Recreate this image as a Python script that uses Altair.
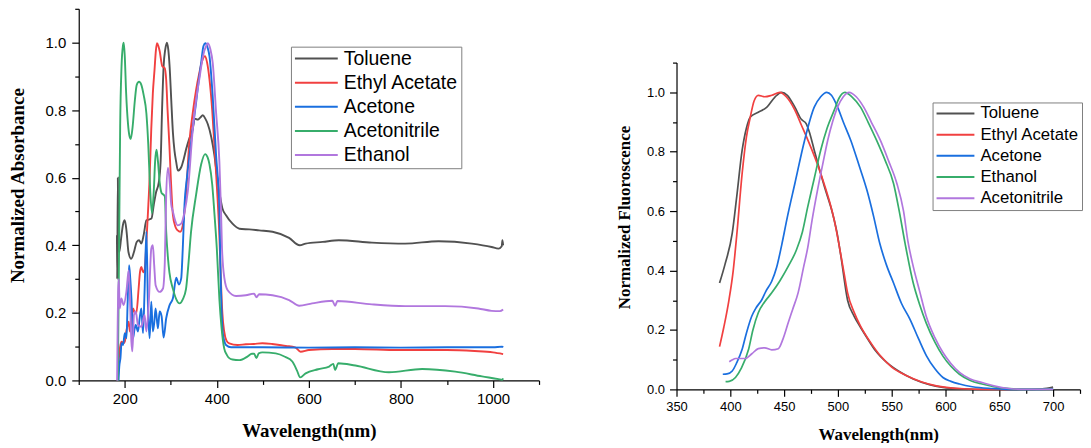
import altair as alt
import pandas as pd

# ---------------- Absorbance (left panel) ----------------
abs_order = ["Toluene", "Ethyl Acetate", "Acetone", "Acetonitrile", "Ethanol"]
fl_order = ["Toluene", "Ethyl Acetate", "Acetone", "Ethanol", "Acetonitrile"]
palette = ["#515151", "#F14040", "#1A6FDF", "#37AD6B", "#B177DE"]

abs_tol_wl = [183, 183.5, 185, 186, 188, 192, 196, 200, 204, 208, 214, 220, 226, 231, 236, 241, 247, 252, 258, 263, 268, 274, 278, 281, 284.4, 288, 291.6, 294.5, 297.4, 301, 304.6, 308, 311.8, 315.4, 322.6, 328, 333.4, 340, 347.8, 352, 358.7, 364, 369.5, 375, 380.3, 388, 394.8, 400, 405.6, 412, 420, 434, 449, 470.6, 492, 521, 557, 580, 593, 630, 665, 737, 809, 882, 954, 997, 1012, 1019, 1020.5, 1022]
abs_tol_v = [0.43, 0.30, 0.60, 0.40, 0.38, 0.42, 0.46, 0.474, 0.44, 0.38, 0.36, 0.38, 0.41, 0.415, 0.405, 0.43, 0.474, 0.476, 0.479, 0.52, 0.557, 0.587, 0.65, 0.80, 0.93, 0.98, 1.0, 0.98, 0.93, 0.83, 0.734, 0.68, 0.646, 0.621, 0.631, 0.655, 0.685, 0.715, 0.745, 0.775, 0.772, 0.778, 0.785, 0.775, 0.759, 0.72, 0.666, 0.61, 0.557, 0.51, 0.489, 0.464, 0.449, 0.447, 0.444, 0.44, 0.422, 0.40, 0.405, 0.41, 0.415, 0.408, 0.405, 0.412, 0.405, 0.395, 0.39, 0.397, 0.415, 0.40]

abs_eth_ac_wl = [185, 187, 190, 193, 197, 200, 204, 208.6, 211, 214, 218, 222, 225, 230, 233, 236, 240, 243, 247, 250.5, 254, 257.6, 261, 264.7, 267.5, 270, 273, 275.8, 281.5, 286.6, 290, 293, 297, 300, 304.6, 310, 315, 320.5, 326, 333, 340, 347.8, 355, 362, 368, 374.6, 379, 384, 390, 394.8, 399, 405.5, 409, 412, 416, 421, 427, 445, 463, 480, 499, 520, 550, 570, 582, 600, 651, 700, 795, 900, 960, 1000, 1022]
abs_eth_ac_v = [0.0, 0.06, 0.10, 0.115, 0.11, 0.115, 0.15, 0.174, 0.145, 0.17, 0.213, 0.20, 0.198, 0.27, 0.32, 0.336, 0.32, 0.326, 0.41, 0.50, 0.60, 0.745, 0.85, 0.92, 0.975, 0.998, 0.99, 0.975, 0.93, 0.925, 0.89, 0.80, 0.695, 0.60, 0.49, 0.455, 0.444, 0.44, 0.459, 0.55, 0.70, 0.793, 0.86, 0.91, 0.945, 0.96, 0.94, 0.892, 0.80, 0.695, 0.60, 0.43, 0.292, 0.20, 0.145, 0.118, 0.11, 0.105, 0.107, 0.108, 0.11, 0.108, 0.102, 0.098, 0.085, 0.09, 0.093, 0.093, 0.09, 0.09, 0.087, 0.083, 0.078]

abs_acet_wl = [186.5, 188, 190.6, 193, 196.3, 200, 203.7, 206, 209.4, 212, 214.5, 218, 221, 223.8, 228.8, 232, 236, 239.6, 243, 247, 250.5, 254, 257.6, 261, 264, 267, 272, 275.8, 280, 284.4, 290, 297.4, 304.6, 311.8, 317.5, 322.6, 326, 329.8, 335, 340.7, 348, 355, 360, 366, 371, 375.3, 380, 384, 391, 398.4, 405.6, 407.6, 410, 412.6, 416, 420, 431, 500, 600, 700, 800, 900, 1000, 1020, 1022]
abs_acet_v = [0.0, 0.04, 0.066, 0.11, 0.105, 0.14, 0.125, 0.22, 0.341, 0.30, 0.243, 0.125, 0.15, 0.164, 0.145, 0.18, 0.213, 0.14, 0.262, 0.44, 0.213, 0.125, 0.233, 0.145, 0.17, 0.213, 0.154, 0.204, 0.19, 0.127, 0.184, 0.223, 0.243, 0.304, 0.284, 0.302, 0.39, 0.52, 0.60, 0.666, 0.75, 0.823, 0.88, 0.941, 0.99, 0.998, 0.985, 0.96, 0.842, 0.666, 0.508, 0.35, 0.22, 0.145, 0.118, 0.105, 0.098, 0.098, 0.097, 0.098, 0.097, 0.098, 0.098, 0.10, 0.098]

abs_acn_wl = [185, 186, 188, 190, 193, 196, 197.8, 200, 203, 207, 210, 213, 217, 222, 226, 231, 236, 241, 247, 251, 255, 259, 263, 266, 269, 272, 276, 280, 284, 287, 290, 294, 297, 304.6, 312, 319, 326, 333, 338, 344, 355, 366, 374.6, 380, 384, 390, 395, 400, 405.6, 410, 416, 422, 427, 434, 449, 467, 476, 481, 486, 491, 499, 528, 548, 564, 574, 581, 593, 620, 644, 653, 657, 664, 701, 774, 846, 918, 976, 1012, 1020, 1022]
abs_acn_v = [0.0, 0.15, 0.45, 0.75, 0.93, 0.99, 1.0, 0.96, 0.85, 0.76, 0.725, 0.715, 0.75, 0.83, 0.875, 0.884, 0.875, 0.845, 0.79, 0.70, 0.57, 0.495, 0.56, 0.65, 0.683, 0.65, 0.585, 0.555, 0.55, 0.545, 0.44, 0.36, 0.32, 0.271, 0.24, 0.228, 0.24, 0.27, 0.34, 0.44, 0.55, 0.64, 0.67, 0.66, 0.64, 0.58, 0.49, 0.39, 0.24, 0.16, 0.095, 0.075, 0.066, 0.062, 0.06, 0.071, 0.079, 0.079, 0.066, 0.08, 0.083, 0.08, 0.07, 0.056, 0.03, 0.009, 0.021, 0.033, 0.041, 0.049, 0.031, 0.051, 0.044, 0.024, 0.034, 0.026, 0.012, 0.004, 0.002, 0.006]

abs_etoh_wl = [183.4, 184.5, 185.6, 187, 189, 192.6, 197.6, 203.5, 208.6, 210.8, 214.4, 216.5, 220, 223.8, 228.8, 236, 243, 247, 252.6, 257.6, 261, 264, 267, 275.8, 283, 287, 290, 294, 298, 301, 304.6, 308.2, 315, 322.6, 329.8, 337, 347.8, 355, 362, 370, 376.8, 380.3, 386, 391, 398.4, 405.6, 409, 411.3, 416.5, 423.6, 441.7, 463, 481, 486, 492, 521, 557, 579, 607, 651, 657, 662, 737, 809, 896, 968, 997, 1015, 1022]
abs_etoh_v = [0.0, 0.15, 0.262, 0.30, 0.213, 0.243, 0.223, 0.262, 0.326, 0.262, 0.115, 0.086, 0.194, 0.204, 0.164, 0.159, 0.194, 0.145, 0.243, 0.39, 0.40, 0.34, 0.282, 0.262, 0.272, 0.35, 0.55, 0.63, 0.58, 0.52, 0.50, 0.479, 0.459, 0.464, 0.498, 0.56, 0.744, 0.83, 0.892, 0.96, 0.99, 0.998, 0.98, 0.941, 0.793, 0.646, 0.508, 0.39, 0.302, 0.267, 0.25, 0.252, 0.257, 0.246, 0.255, 0.252, 0.238, 0.221, 0.228, 0.236, 0.221, 0.235, 0.225, 0.22, 0.22, 0.213, 0.206, 0.205, 0.21]

# ---------------- Fluorescence (right panel) ----------------
fl_tol_wl = [390, 395, 401.8, 406, 411, 415, 418.6, 426, 434, 441.5, 447.7, 453, 460, 466, 470.6, 474, 478, 487.5, 495, 499, 502.8, 509, 515, 520, 527, 535, 545.6, 557, 570, 585, 597.6, 615, 640, 670, 690, 700]
fl_tol_v = [0.358, 0.42, 0.526, 0.65, 0.805, 0.88, 0.917, 0.933, 0.95, 0.984, 1.0, 0.99, 0.95, 0.909, 0.894, 0.86, 0.805, 0.682, 0.593, 0.53, 0.448, 0.30, 0.247, 0.215, 0.174, 0.13, 0.09, 0.06, 0.035, 0.016, 0.007, 0.002, 0.0, 0.0, 0.002, 0.008]

fl_eth_ac_wl = [390, 394, 398.7, 402.7, 406, 411, 415, 418.6, 422, 426, 432, 438.5, 446, 452, 460, 466, 472, 484, 496.6, 505.8, 509, 515, 521, 530, 539.5, 550, 564, 578, 591.5, 613, 640, 660]
fl_eth_ac_v = [0.144, 0.21, 0.30, 0.40, 0.52, 0.727, 0.85, 0.917, 0.97, 0.99, 0.985, 0.99, 1.0, 0.985, 0.94, 0.89, 0.84, 0.727, 0.57, 0.39, 0.325, 0.26, 0.213, 0.16, 0.113, 0.075, 0.046, 0.025, 0.012, 0.003, 0.0, 0.0]

fl_acet_wl = [393, 397, 401.8, 406, 411, 415, 420, 424, 429, 433, 438.5, 443, 447.7, 453, 460, 469, 478, 484, 489.6, 494, 499.7, 505, 512, 520, 527, 533, 539, 545, 551.7, 559, 567, 575, 582.3, 590, 597.6, 605, 613, 625, 643.6, 660, 680, 700]
fl_acet_v = [0.051, 0.052, 0.062, 0.09, 0.135, 0.19, 0.247, 0.275, 0.30, 0.33, 0.364, 0.41, 0.485, 0.58, 0.693, 0.838, 0.95, 0.985, 1.0, 0.99, 0.95, 0.90, 0.838, 0.75, 0.67, 0.585, 0.49, 0.42, 0.358, 0.29, 0.236, 0.17, 0.113, 0.07, 0.04, 0.027, 0.018, 0.009, 0.003, 0.0, 0.0, 0.002]

fl_etoh_wl = [395.6, 399, 404.8, 410, 417, 421, 426, 432, 438.5, 446, 453.8, 461.5, 467, 472, 478, 484, 490, 496.6, 501, 506.5, 513, 521, 528, 536, 544, 551.7, 557, 562.5, 570, 576, 582, 590, 597.6, 605, 613, 623, 634, 645, 659, 675, 700]
fl_etoh_v = [0.026, 0.027, 0.04, 0.07, 0.135, 0.20, 0.258, 0.295, 0.325, 0.365, 0.414, 0.47, 0.53, 0.615, 0.71, 0.805, 0.88, 0.94, 0.98, 1.0, 0.985, 0.95, 0.90, 0.838, 0.77, 0.693, 0.60, 0.49, 0.358, 0.285, 0.224, 0.16, 0.112, 0.078, 0.051, 0.03, 0.018, 0.009, 0.003, 0.0, 0.0]

fl_acn_wl = [399, 402, 404.8, 414, 420, 426, 432, 438.5, 444.6, 449, 453.8, 458, 463, 468, 472, 476, 481, 486, 490.5, 495, 499.7, 505, 510.4, 517, 524, 531, 539.5, 547, 554.8, 561, 565, 570, 576, 582, 590, 597.6, 605, 613, 623, 634, 645, 659, 675, 700]
fl_acn_v = [0.093, 0.10, 0.104, 0.104, 0.12, 0.137, 0.14, 0.133, 0.137, 0.17, 0.224, 0.27, 0.325, 0.41, 0.478, 0.57, 0.67, 0.76, 0.838, 0.90, 0.95, 0.985, 1.0, 0.985, 0.95, 0.90, 0.838, 0.77, 0.693, 0.60, 0.50, 0.414, 0.33, 0.247, 0.175, 0.124, 0.087, 0.057, 0.035, 0.023, 0.012, 0.003, 0.0, 0.0]


def frame(pairs):
    rows = []
    for name, wl, v in pairs:
        for i, (a, b) in enumerate(zip(wl, v)):
            rows.append({"series": name, "wl": a, "val": b, "idx": i})
    return pd.DataFrame(rows)


df_abs = frame([
    ("Toluene", abs_tol_wl, abs_tol_v),
    ("Ethyl Acetate", abs_eth_ac_wl, abs_eth_ac_v),
    ("Acetone", abs_acet_wl, abs_acet_v),
    ("Acetonitrile", abs_acn_wl, abs_acn_v),
    ("Ethanol", abs_etoh_wl, abs_etoh_v),
])
df_fl = frame([
    ("Toluene", fl_tol_wl, fl_tol_v),
    ("Ethyl Acetate", fl_eth_ac_wl, fl_eth_ac_v),
    ("Acetone", fl_acet_wl, fl_acet_v),
    ("Ethanol", fl_etoh_wl, fl_etoh_v),
    ("Acetonitrile", fl_acn_wl, fl_acn_v),
])

SANS = "Liberation Sans"
SERIF = "Liberation Serif"

y_ticks = [round(0.1 * i, 1) for i in range(12)]
Y_MAJOR = "round(datum.value*10) % 2 == 0"


def y_axis(title, lab_size, title_size, title_pad, lab_pad, title_y):
    return alt.Axis(values=y_ticks,
                    labelExpr=f"{Y_MAJOR} ? format(datum.value, '.1f') : ''",
                    tickSize={"condition": {"test": Y_MAJOR, "value": 7}, "value": 4},
                    labelFontSize={"condition": {"test": Y_MAJOR, "value": lab_size}, "value": 0},
                    grid=False, title=title, labelFont=SANS,
                    titleFont=SERIF, titleFontWeight="bold", titleFontSize=title_size,
                    titlePadding=title_pad, labelPadding=lab_pad, labelOverlap=False,
                    labelFlush=False, titleY=title_y)


def x_axis(values, step, lab_size, title_size, title_pad):
    major = f"datum.value % {step} == 0"
    return alt.Axis(values=values, grid=False, title="Wavelength(nm)",
                    labelExpr=f"{major} ? datum.label : ''",
                    tickSize={"condition": {"test": major, "value": 7}, "value": 4},
                    labelFontSize={"condition": {"test": major, "value": lab_size}, "value": 0},
                    format="d", labelFont=SANS,
                    titleFont=SERIF, titleFontWeight="bold", titleFontSize=title_size,
                    titlePadding=title_pad, labelPadding=4, labelOverlap=False,
                    labelFlush=False)


left = alt.Chart(df_abs).mark_line(strokeWidth=1.9, interpolate="monotone").encode(
    x=alt.X("wl:Q", scale=alt.Scale(domain=[100, 1100], nice=False, zero=False),
            axis=x_axis(list(range(100, 1101, 100)), 200, 15, 19, 15)),
    y=alt.Y("val:Q", scale=alt.Scale(domain=[0, 1.1], nice=False),
            axis=y_axis("Normalized Absorbance", 15, 19, 18, 6, 177)),
    color=alt.Color("series:N", sort=abs_order,
                    scale=alt.Scale(domain=abs_order, range=palette),
                    legend=alt.Legend(orient="none", legendX=213, legendY=38, title=None,
                                      symbolType="stroke", symbolSize=1849, symbolStrokeWidth=2,
                                      labelFont=SANS, labelFontSize=19.5, labelColor="black",
                                      strokeColor="#808080", fillColor="white", padding=3,
                                      clipHeight=18, rowPadding=4.2, labelOffset=5)),
    detail="series:N",
    order="idx:Q",
).properties(width=462, height=373)

right = alt.Chart(df_fl).mark_line(strokeWidth=1.7, interpolate="monotone").encode(
    x=alt.X("wl:Q", scale=alt.Scale(domain=[350, 725], nice=False, zero=False),
            axis=x_axis(list(range(350, 726, 25)), 50, 13, 17, 13)),
    y=alt.Y("val:Q", scale=alt.Scale(domain=[0, 1.1], nice=False),
            axis=y_axis("Normalized Fluoroscence", 13, 17, 13, 5, 155)),
    color=alt.Color("series:N", sort=fl_order,
                    scale=alt.Scale(domain=fl_order, range=palette),
                    legend=alt.Legend(orient="none", legendX=257, legendY=40, title=None,
                                      symbolType="stroke", symbolSize=1444, symbolStrokeWidth=2,
                                      labelFont=SANS, labelFontSize=16.8, labelColor="black",
                                      strokeColor="#808080", fillColor="white", padding=3,
                                      clipHeight=16, rowPadding=4.3, labelOffset=5)),
    detail="series:N",
    order="idx:Q",
).properties(width=405, height=328)

spacer = alt.Chart(pd.DataFrame({"s": [0]})).mark_point(opacity=0).encode(
    x=alt.value(0), y=alt.value(0)
).properties(width=1, height=53)

right_col = alt.vconcat(spacer, right, spacing=0).resolve_scale(color="independent")

chart = alt.hconcat(left, right_col, spacing=75).resolve_scale(
    color="independent"
).configure_view(stroke=None).configure_axis(
    domainColor="black", tickColor="black", labelColor="black", titleColor="black",
    domainWidth=1.2, tickWidth=1.2
).properties(padding={"left": 0, "top": -3, "right": 0, "bottom": 0})

chart.save("out.html", embed_options={"renderer": "svg", "actions": False})
